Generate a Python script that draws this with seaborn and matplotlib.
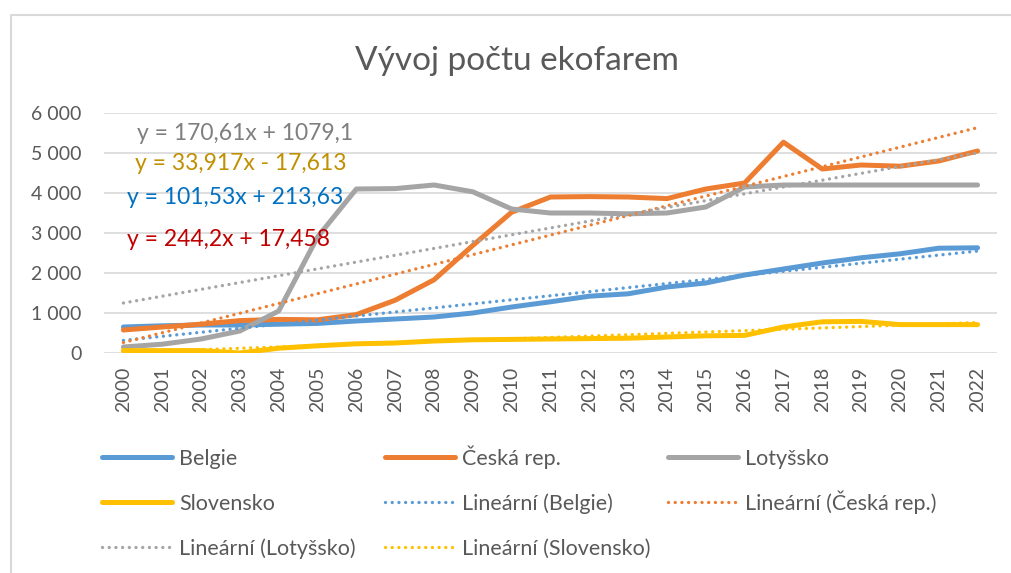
import numpy as np
import pandas as pd
import seaborn as sns
import matplotlib.pyplot as plt
from matplotlib.lines import Line2D
from matplotlib.ticker import FuncFormatter

# values (number of organic farms)
years = list(range(2000, 2023))
belgie = [650, 680, 700, 700, 720, 740, 800, 850, 900, 1000, 1150, 1280, 1420,
          1480, 1650, 1750, 1950, 2100, 2250, 2380, 2480, 2620, 2630]
ceska = [575, 650, 720, 810, 840, 830, 960, 1320, 1830, 2690, 3520, 3900, 3910,
         3900, 3860, 4100, 4250, 5270, 4600, 4700, 4670, 4800, 5050]
lotyssko = [150, 220, 350, 550, 1050, 2900, 4100, 4110, 4200, 4030, 3600, 3500, 3500,
            3480, 3500, 3650, 4150, 4200, 4200, 4200, 4200, 4200, 4200]
slovensko = [60, 60, 60, 0, 120, 180, 230, 250, 300, 330, 340, 350, 360,
             370, 400, 430, 440, 650, 780, 790, 710, 710, 710]

countries = ['Belgie', 'Česká rep.', 'Lotyšsko', 'Slovensko']
# linear trendline coefficients as printed on the chart (x = 1..23)
slopes = [101.53, 244.2, 170.61, 33.917]
intercepts = [213.63, 17.458, 1079.1, -17.613]
eq_labels = ['y = 101,53x + 213,63', 'y = 244,2x + 17,458',
             'y = 170,61x + 1079,1', 'y = 33,917x - 17,613']

colors = ['#5B9BD5', '#ED7D31', '#A5A5A5', '#FFC000']
eq_colors = ['#0070C0', '#C00000', '#7F7F7F', '#BF9000']

df = pd.DataFrame({'rok': years * 4,
                   'zeme': np.repeat(countries, len(years)),
                   'pocet': belgie + ceska + lotyssko + slovensko})
x_idx = np.array(years) - years[0] + 1
trend = pd.DataFrame({'rok': years * 4,
                      'zeme': np.repeat(countries, len(years)),
                      'pocet': np.concatenate([s * x_idx + b for s, b in zip(slopes, intercepts)])})

sns.set_style('white')
plt.rcParams['font.family'] = ['Lato', 'DejaVu Sans']

fig = plt.figure(figsize=(10.12, 5.73), dpi=100)
ax = fig.add_axes([104 / 1012, 1 - 353 / 573, (997 - 104) / 1012, (353 - 113) / 573])

pal = dict(zip(countries, colors))
dots = (0, (0.01, 2.0))
sns.lineplot(data=df, x='rok', y='pocet', hue='zeme', palette=pal, linewidth=3.6,
             legend=False, ax=ax, zorder=2)
n_solid = len(ax.lines)
sns.lineplot(data=trend, x='rok', y='pocet', hue='zeme', palette=pal, linewidth=2.4,
             legend=False, ax=ax, zorder=3)
for i, ln in enumerate(ax.lines):
    if i < n_solid:
        ln.set_solid_capstyle('round')
    else:
        ln.set_linestyle(dots)
        ln.set_dash_capstyle('round')

ax.set_xlim(years[0] - 0.5, years[-1] + 0.5)
ax.set_ylim(0, 6000)
ax.set_yticks(range(0, 6001, 1000))
ax.yaxis.set_major_formatter(FuncFormatter(lambda v, p: f'{int(v):,}'.replace(',', ' ')))
ax.set_xticks(years)
ax.set_xticklabels([str(y) for y in years], rotation=90)
ax.tick_params(axis='both', length=0, labelsize=14, colors='#595959')
ax.tick_params(axis='y', pad=16)
ax.tick_params(axis='x', pad=10)
ax.grid(axis='y', color='#D9D9D9', linewidth=1.2)
ax.set_axisbelow(True)
for sp in ax.spines.values():
    sp.set_visible(False)
ax.set_xlabel('')
ax.set_ylabel('')

fig.text(0.511, 0.893, 'Vývoj počtu ekofarem', ha='center', va='center',
         fontsize=24, color='#595959')

# trendline equations
eq_pos = [(127, 198), (127, 240), (137, 133), (135, 164)]
for lab, col, (px, py) in zip(eq_labels, eq_colors, eq_pos):
    fig.text(px / 1012, 1 - py / 573, lab, ha='left', va='center', fontsize=16.5, color=col)

# legend: three equal-width columns, filled row by row, one entry per box
solid = [Line2D([], [], color=c, linewidth=3.6, solid_capstyle='round') for c in colors]
dotted = [Line2D([], [], color=c, linewidth=2.4, linestyle=dots,
                 dash_capstyle='round') for c in colors]
lin_labels = [f'Lineární ({c})' for c in countries]
entries = list(zip(solid, countries)) + list(zip(dotted, lin_labels))
col_x = [102, 385, 668]
row_bottom = [469, 514, 559]
for i, (h, lab) in enumerate(entries):
    leg = fig.legend([h], [lab], frameon=False, loc='lower left',
                     bbox_to_anchor=(col_x[i % 3] / 1012, 1 - row_bottom[i // 3] / 573),
                     borderaxespad=0, borderpad=0,
                     fontsize=15.5, labelcolor='#595959', handlelength=3.25,
                     handletextpad=0.33)

# chart area border (only top and left edges visible)
fig.add_artist(Line2D([11 / 1012, 11 / 1012, 1.0], [0.0, 1 - 14.5 / 573, 1 - 14.5 / 573],
                      transform=fig.transFigure, color='#D9D9D9', linewidth=1.5))

fig.savefig('out.png', dpi=100)
